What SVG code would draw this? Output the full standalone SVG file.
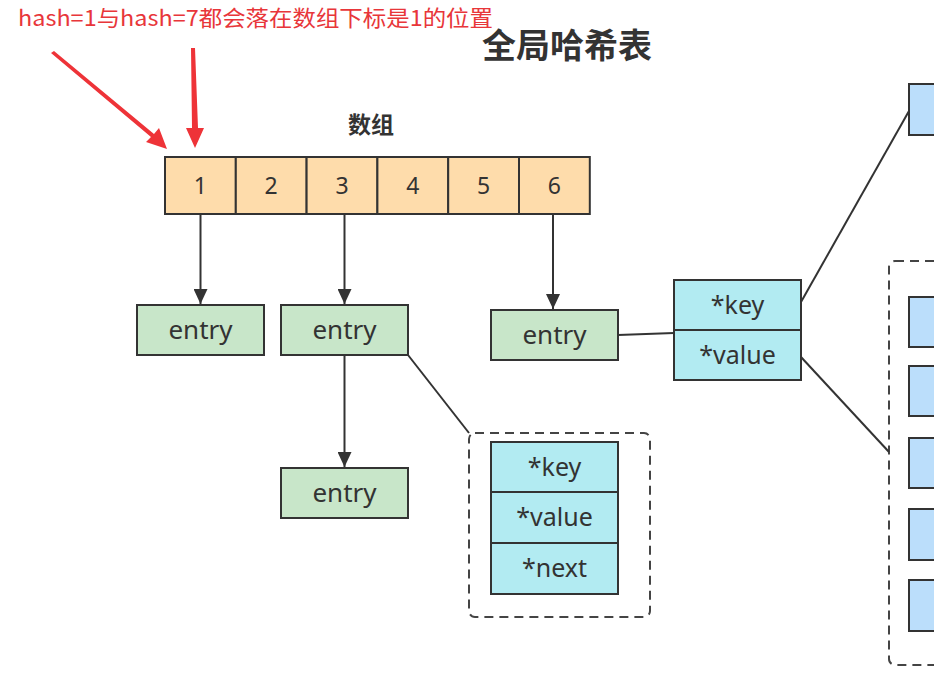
<svg xmlns="http://www.w3.org/2000/svg" width="948" height="678" viewBox="0 0 948 678">
<style>
.t{font-family:"Noto Sans","Open Sans","Noto Sans CJK SC",sans-serif;fill:#333;text-anchor:middle}
.cjk{font-family:"Noto Sans CJK SC","Noto Sans",sans-serif;font-weight:bold;fill:#333;text-anchor:middle}
.cell{fill:#fedcab;stroke:#333;stroke-width:2}
.entry{fill:#c8e6c9;stroke:#333;stroke-width:2}
.fld{fill:#b2ebf2;stroke:#333;stroke-width:2}
.blue{fill:#bbdefb;stroke:#333;stroke-width:2}
.dash{fill:none;stroke:#444;stroke-width:2;stroke-dasharray:9 6}
.ln{stroke:#333;stroke-width:2;fill:none}
</style>
<defs>
<marker id="ah" markerWidth="15" markerHeight="14" refX="15" refY="7" orient="auto" markerUnits="userSpaceOnUse">
<path d="M0,0 L15,7 L0,14 Z" fill="#333"/>
</marker>
<clipPath id="clipR"><rect x="0" y="0" width="934" height="678"/></clipPath>
</defs>
<rect width="948" height="678" fill="#fff"/>

<g id="note">
<text x="18" y="26" font-family="Noto Sans CJK SC, Noto Sans, sans-serif" font-size="22" fill="#e8363a" textLength="475" lengthAdjust="spacingAndGlyphs">hash=1与hash=7都会落在数组下标是1的位置</text>
<polygon points="51,53 54,51 154,134 159,128 167,149 146,142 151,137" fill="#ee3338"/>
<polygon points="191,48 195,48 198,128 204,128 195,148 186,128 192,128" fill="#ee3338"/>
</g>

<g id="title"><text x="567" y="58" class="cjk" font-size="34">全局哈希表</text></g>
<g id="arrayLabel"><text x="371" y="133" class="cjk" font-size="23">数组</text></g>

<g id="array">
<rect class="cell" x="165" y="157" width="70.8" height="57"/>
<rect class="cell" x="235.8" y="157" width="70.8" height="57"/>
<rect class="cell" x="306.6" y="157" width="70.8" height="57"/>
<rect class="cell" x="377.4" y="157" width="70.8" height="57"/>
<rect class="cell" x="448.2" y="157" width="70.8" height="57"/>
<rect class="cell" x="519" y="157" width="70.8" height="57"/>
<text class="t" font-size="23" x="200.4" y="194">1</text>
<text class="t" font-size="23" x="271.2" y="194">2</text>
<text class="t" font-size="23" x="342" y="194">3</text>
<text class="t" font-size="23" x="412.8" y="194">4</text>
<text class="t" font-size="23" x="483.6" y="194">5</text>
<text class="t" font-size="23" x="554.4" y="194">6</text>
</g>

<g id="entry1"><rect class="entry" x="137" y="305" width="127" height="50"/><text class="t" font-size="26" x="200.5" y="339">entry</text></g>
<g id="entry2"><rect class="entry" x="281" y="305" width="127" height="50"/><text class="t" font-size="26" x="344.5" y="339">entry</text></g>
<g id="entry3"><rect class="entry" x="281" y="468" width="127" height="50"/><text class="t" font-size="26" x="344.5" y="502">entry</text></g>
<g id="entry4"><rect class="entry" x="491" y="310" width="127" height="50"/><text class="t" font-size="26" x="554.5" y="344">entry</text></g>

<g id="entryStruct">
<rect class="dash" x="469" y="433" width="181" height="184" rx="6"/>
<rect class="fld" x="491" y="442" width="127" height="50"/>
<rect class="fld" x="491" y="492" width="127" height="51"/>
<rect class="fld" x="491" y="543" width="127" height="51"/>
<text class="t" font-size="25" x="554.5" y="476">*key</text>
<text class="t" font-size="25" x="554.5" y="526">*value</text>
<text class="t" font-size="25" x="554.5" y="577">*next</text>
</g>

<g id="kvStruct">
<rect class="fld" x="674" y="280" width="127" height="50"/>
<rect class="fld" x="674" y="330" width="127" height="50"/>
<text class="t" font-size="25" x="737.5" y="314">*key</text>
<text class="t" font-size="25" x="737.5" y="364">*value</text>
</g>

<g id="rightSide" clip-path="url(#clipR)">
<rect class="blue" x="909" y="84" width="60" height="51"/>
<rect class="dash" x="889" y="261" width="120" height="404" rx="6"/>
<rect class="blue" x="909" y="297" width="60" height="50"/>
<rect class="blue" x="909" y="366" width="60" height="50"/>
<rect class="blue" x="909" y="438" width="60" height="50"/>
<rect class="blue" x="909" y="509" width="60" height="51"/>
<rect class="blue" x="909" y="580" width="60" height="51"/>
</g>

<g id="connectors">
<line class="ln" x1="200.5" y1="214" x2="200.5" y2="304" marker-end="url(#ah)"/>
<line class="ln" x1="344.5" y1="214" x2="344.5" y2="304" marker-end="url(#ah)"/>
<line class="ln" x1="553" y1="214" x2="553" y2="309" marker-end="url(#ah)"/>
<line class="ln" x1="344.5" y1="355" x2="344.5" y2="467" marker-end="url(#ah)"/>
<line class="ln" x1="408" y1="355" x2="469" y2="433"/>
<line class="ln" x1="618" y1="335" x2="674" y2="333"/>
<line class="ln" x1="801" y1="302" x2="909" y2="111"/>
<line class="ln" x1="801" y1="357" x2="889" y2="452"/>
</g>
</svg>
